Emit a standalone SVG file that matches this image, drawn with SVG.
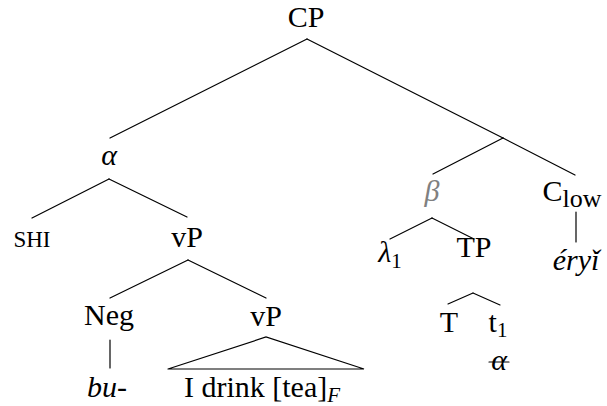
<svg xmlns="http://www.w3.org/2000/svg" width="607" height="406" viewBox="0 0 607 406">
<style>
text{font-family:'Liberation Serif','Times New Roman',serif;font-size:30px;fill:#000;text-anchor:middle}
.it{font-style:italic}
.sc{font-size:23px}
.sub{font-size:21px}
.grey{fill:#808080}
.edge{stroke:#000;stroke-width:1.2;fill:none;stroke-linecap:round}
</style>
<rect width="607" height="406" fill="#fff"/>
<g id="connectors">
<line class="edge" x1="307" y1="39" x2="110" y2="138"/>
<line class="edge" x1="307" y1="39" x2="503" y2="138"/>
<line class="edge" x1="503" y1="138" x2="433" y2="174"/>
<line class="edge" x1="503" y1="138" x2="575" y2="175"/>
<line class="edge" x1="109" y1="179" x2="32" y2="218"/>
<line class="edge" x1="109" y1="179" x2="187" y2="217"/>
<line class="edge" x1="188" y1="260" x2="110" y2="298"/>
<line class="edge" x1="188" y1="260" x2="266" y2="298"/>
<line class="edge" x1="110" y1="340" x2="110" y2="368"/>
<polyline class="edge" points="168,369 266,337 364,369 168,369"/>
<line class="edge" x1="432" y1="218" x2="390" y2="239"/>
<line class="edge" x1="432" y1="218" x2="474" y2="239"/>
<line class="edge" x1="473" y1="293" x2="448" y2="304"/>
<line class="edge" x1="473" y1="293" x2="500" y2="305"/>
<line class="edge" x1="576" y1="212" x2="576" y2="242"/>
</g>
<g id="CP"><text x="306" y="27">CP</text></g>
<g id="alpha"><text class="it" x="109" y="165" fill="#222">α</text></g>
<g id="SHI"><text class="sc" x="32" y="247">SHI</text></g>
<g id="vP1"><text x="187" y="247">vP</text></g>
<g id="Neg"><text x="109" y="325">Neg</text></g>
<g id="bu"><text class="it" x="107" y="397">bu-</text></g>
<g id="vP2"><text x="266" y="326">vP</text></g>
<g id="idrink"><text x="262" y="397">I drink [tea]<tspan class="sub it" dy="5">F</tspan></text></g>
<g id="beta"><text class="it grey" x="432" y="201">β</text></g>
<g id="Clow"><text x="572" y="201">C<tspan font-size="26" dy="6">low</tspan></text></g>
<g id="eryi"><text class="it" x="576" y="270">éryǐ</text></g>
<g id="lambda1"><text class="it" x="390" y="262">λ<tspan class="sub" font-style="normal" dy="6">1</tspan></text></g>
<g id="TP"><text x="474" y="257">TP</text></g>
<g id="T"><text x="449" y="332">T</text></g>
<g id="t1"><text x="498" y="332">t<tspan class="sub" dy="5">1</tspan></text></g>
<g id="alpha-struck"><text class="it" x="499" y="370">α</text><line class="edge" x1="489" y1="362" x2="509" y2="362"/></g>
</svg>
